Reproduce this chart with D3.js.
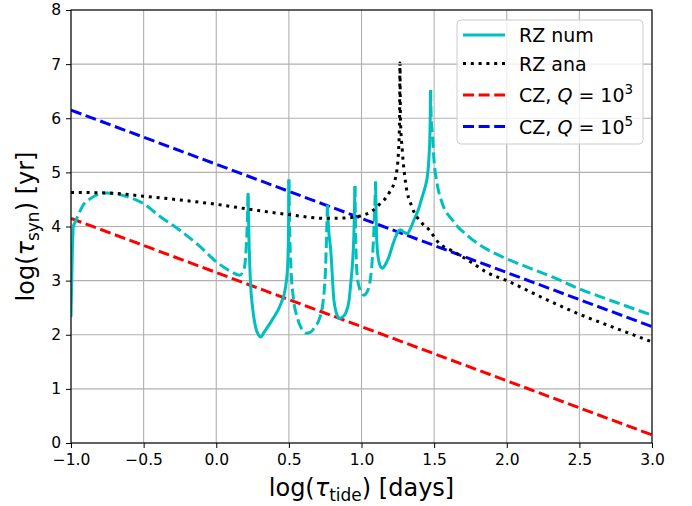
<!DOCTYPE html>
<html>
<head>
<meta charset="utf-8">
<script src="https://cdn.jsdelivr.net/npm/d3@7"></script>
<style>
  body { margin: 0; background: #fff; }
  svg text { font-family: "DejaVu Sans", sans-serif; }
</style>
</head>
<body>
<div class="chart"></div>
<script>
// axis ticks
let xTicks = [-1.0, -0.5, 0.0, 0.5, 1.0, 1.5, 2.0, 2.5, 3.0];
let yTicks = [0, 1, 2, 3, 4, 5, 6, 7, 8];

// CZ lines (Q = 1e3 and 1e5)
let czX = [-1.0, 3.0];
let czQ3 = [4.15, 0.15];
let czQ5 = [6.15, 2.15];

// RZ analytic (black dotted)
let rzAnaX = [-1.0, -0.75, -0.5, -0.25, 0.0, 0.25, 0.5, 0.75, 0.9, 1.0, 1.07, 1.12, 1.19, 1.235, 1.255, 1.262, 1.265,
              1.268, 1.281, 1.304, 1.348, 1.417, 1.465, 1.534, 1.625, 1.761, 1.857, 2.0, 2.25, 2.5, 2.75, 3.0];
let rzAnaY = [4.63, 4.62, 4.56, 4.49, 4.41, 4.31, 4.22, 4.15, 4.16, 4.2, 4.28, 4.4, 4.62, 4.91, 5.4, 6.0, 7.02,
              6.0, 5.4, 4.8, 4.36, 4.06, 3.94, 3.69, 3.55, 3.33, 3.16, 3.0, 2.68, 2.38, 2.12, 1.87];

// RZ numerical (cyan), split into pieces: solid and dashed alternate
let rzNumA = [[-1.0, 2.33], [-0.995, 3.0], [-0.99, 3.6], [-0.985, 4.0]];
let rzNumB = [[-0.985, 4.0], [-0.96, 4.15], [-0.92, 4.38], [-0.864, 4.52], [-0.807, 4.6], [-0.75, 4.62], [-0.65, 4.58],
              [-0.5, 4.42], [-0.394, 4.2], [-0.25, 3.93], [-0.1, 3.6], [0.0, 3.35], [0.1, 3.17], [0.16, 3.1],
              [0.19, 3.2], [0.205, 3.55], [0.213, 4.0], [0.219, 4.62]];
let rzNumC = [[0.219, 4.62], [0.225, 3.8], [0.235, 3.0], [0.25, 2.5], [0.27, 2.15], [0.29, 2.0], [0.306, 1.96],
              [0.33, 2.05], [0.384, 2.27], [0.446, 2.58], [0.475, 2.85], [0.49, 3.2], [0.497, 3.8], [0.5, 4.87]];
let rzNumD = [[0.5, 4.87], [0.505, 4.0], [0.515, 3.2], [0.53, 2.7], [0.56, 2.3], [0.59, 2.1], [0.616, 2.03],
              [0.65, 2.05], [0.68, 2.15], [0.707, 2.27], [0.735, 2.6], [0.753, 3.26], [0.765, 4.4]];
let rzNumE = [[0.765, 4.4], [0.775, 3.9], [0.788, 3.57], [0.81, 2.64], [0.83, 2.38], [0.845, 2.3], [0.87, 2.33],
              [0.891, 2.4], [0.915, 2.65], [0.926, 2.95], [0.94, 3.4], [0.948, 3.88], [0.955, 4.75]];
let rzNumF = [[0.955, 4.75], [0.96, 3.8], [0.971, 3.07], [0.99, 2.83], [1.017, 2.73], [1.04, 2.8], [1.052, 2.89],
              [1.074, 3.38], [1.085, 3.9], [1.097, 4.83]];
let rzNumG = [[1.097, 4.83], [1.102, 4.0], [1.109, 3.57], [1.125, 3.3], [1.143, 3.23], [1.165, 3.3], [1.189, 3.44],
              [1.21, 3.62], [1.235, 3.81], [1.255, 3.92], [1.27, 3.94], [1.29, 3.9], [1.315, 3.87], [1.34, 3.98],
              [1.361, 4.12], [1.39, 4.3], [1.418, 4.55], [1.44, 4.75], [1.453, 4.92], [1.465, 5.3], [1.472, 5.8],
              [1.476, 6.52]];
let rzNumH = [[1.476, 6.52], [1.48, 6.0], [1.488, 5.7], [1.499, 5.23], [1.52, 4.8], [1.556, 4.43], [1.625, 4.12],
              [1.74, 3.81], [1.85, 3.6], [1.969, 3.44], [2.15, 3.24], [2.313, 3.07], [2.5, 2.85], [2.75, 2.6],
              [3.0, 2.36]];

let W = 692, H = 506;
let margin = {top: 10, right: 40, bottom: 63, left: 71};
let width = W - margin.left - margin.right;
let height = H - margin.top - margin.bottom;

let svg = d3.select(".chart")
  .append("svg")
    .attr("width", W)
    .attr("height", H)
  .append("g")
    .attr("transform", "translate(" + margin.left + "," + margin.top + ")");

let x = d3.scaleLinear().domain([-1, 3]).range([0, width]);
let y = d3.scaleLinear().domain([0, 8]).range([height, 0]);

// grid
svg.append("g").selectAll("line").data(xTicks).enter().append("line")
  .attr("x1", d => x(d)).attr("x2", d => x(d)).attr("y1", 0).attr("y2", height)
  .style("stroke", "#b0b0b0").style("stroke-width", 1.1);
svg.append("g").selectAll("line").data(yTicks).enter().append("line")
  .attr("y1", d => y(d)).attr("y2", d => y(d)).attr("x1", 0).attr("x2", width)
  .style("stroke", "#b0b0b0").style("stroke-width", 1.1);

svg.append("clipPath").attr("id", "clip")
  .append("rect").attr("width", width).attr("height", height);
let plot = svg.append("g").attr("clip-path", "url(#clip)");

let line = d3.line().x(d => x(d[0])).y(d => y(d[1])).curve(d3.curveMonotoneX);
let lw = 3;
let dash = "11,4.6", dots = "3,4.8";

// CZ lines
plot.append("path").datum(czX.map((v, i) => [v, czQ3[i]]))
  .attr("d", line).attr("fill", "none").attr("stroke", "#ff0000")
  .attr("stroke-width", lw).attr("stroke-dasharray", dash);
plot.append("path").datum(czX.map((v, i) => [v, czQ5[i]]))
  .attr("d", line).attr("fill", "none").attr("stroke", "#0000ff")
  .attr("stroke-width", lw).attr("stroke-dasharray", dash);

// RZ num pieces
let pieces = [[rzNumA, false], [rzNumB, true], [rzNumC, false], [rzNumD, true],
              [rzNumE, false], [rzNumF, true], [rzNumG, false], [rzNumH, true]];
pieces.forEach(function(p) {
  plot.append("path").datum(p[0])
    .attr("d", line).attr("fill", "none").attr("stroke", "#00bfbf")
    .attr("stroke-width", lw)
    .attr("stroke-dasharray", p[1] ? dash : null);
});

// RZ ana
plot.append("path").datum(rzAnaX.map((v, i) => [v, rzAnaY[i]]))
  .attr("d", line).attr("fill", "none").attr("stroke", "#000")
  .attr("stroke-width", lw).attr("stroke-dasharray", dots);

// axes
let fmt = d => d3.format(".1f")(d).replace("-", "\u2212");
let xAxis = svg.append("g")
  .attr("transform", "translate(0," + height + ")")
  .call(d3.axisBottom(x).tickValues(xTicks).tickFormat(fmt).tickSizeOuter(0).tickSize(5).tickPadding(6));
let yAxis = svg.append("g")
  .call(d3.axisLeft(y).tickValues(yTicks).tickFormat(d3.format("d")).tickSizeOuter(0).tickSize(5).tickPadding(5));
[xAxis, yAxis].forEach(function(a) {
  a.selectAll("text").style("font-size", "15.5px").style("font-family", "DejaVu Sans").attr("fill", "#000");
  a.selectAll("line").attr("stroke", "#000").attr("stroke-width", 1);
  a.select(".domain").remove();
});
// spines
svg.append("rect").attr("width", width).attr("height", height)
  .attr("fill", "none").attr("stroke", "#000").attr("stroke-width", 1.1);

// axis labels
let xl = svg.append("text")
  .attr("x", width / 2).attr("y", height + 53)
  .attr("text-anchor", "middle").style("font-size", "24px");
xl.append("tspan").text("log(");
xl.append("tspan").style("font-style", "italic").text("\u03c4");
xl.append("tspan").attr("dy", 5).style("font-size", "17px").text("tide");
xl.append("tspan").attr("dy", -5).text(") [days]");

let yl = svg.append("text")
  .attr("transform", "translate(" + (-37) + "," + (height / 2) + ") rotate(-90)")
  .attr("text-anchor", "middle").style("font-size", "24px");
yl.append("tspan").text("log(");
yl.append("tspan").style("font-style", "italic").text("\u03c4");
yl.append("tspan").attr("dy", 5).style("font-size", "17px").text("syn");
yl.append("tspan").attr("dy", -5).text(") [yr]");

// legend
let lg = svg.append("g").attr("transform", "translate(" + (457 - margin.left) + "," + (20 - margin.top) + ")");
lg.append("rect").attr("width", 186).attr("height", 124).attr("rx", 4)
  .attr("fill", "#fff").attr("fill-opacity", 0.8).attr("stroke", "#cccccc").attr("stroke-width", 1);
let entries = [
  {c: "#00bfbf", d: null, yy: 15},
  {c: "#000", d: dots, yy: 43.5},
  {c: "#ff0000", d: dash, yy: 75},
  {c: "#0000ff", d: dash, yy: 106.5}
];
entries.forEach(function(e) {
  lg.append("line").attr("x1", 6).attr("x2", 48).attr("y1", e.yy).attr("y2", e.yy)
    .attr("stroke", e.c).attr("stroke-width", lw).attr("stroke-dasharray", e.d);
});
let labels = lg.selectAll(".lab").data(entries).enter().append("text")
  .attr("x", 62).attr("y", d => d.yy + 7).style("font-size", "19px");
labels.filter((d, i) => i == 0).text("RZ num");
labels.filter((d, i) => i == 1).text("RZ ana");
labels.filter((d, i) => i >= 2).each(function(d, i) {
  let t = d3.select(this);
  t.append("tspan").text("CZ,  ");
  t.append("tspan").style("font-style", "italic").text("Q");
  t.append("tspan").text(" = 10");
  t.append("tspan").attr("dy", -8).style("font-size", "13.5px").text(i == 0 ? "3" : "5");
});
</script>
</body>
</html>
